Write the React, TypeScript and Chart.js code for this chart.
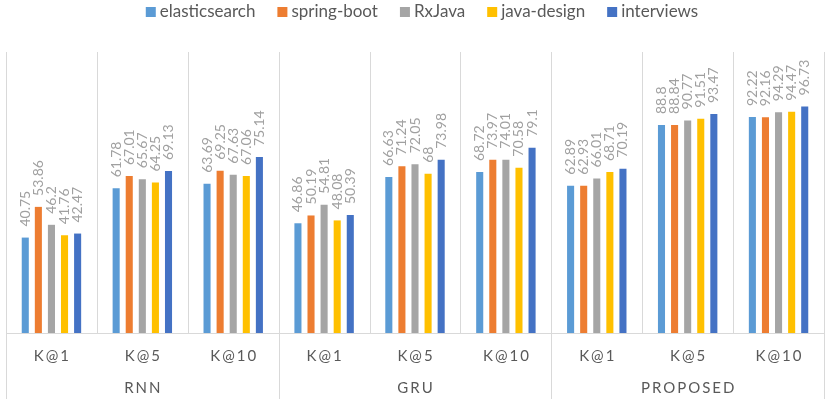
import React, { useEffect, useRef } from "react";
import { Chart, registerables } from "chart.js";

Chart.register(...registerables);

const categories = ["K@1", "K@5", "K@10", "K@1", "K@5", "K@10", "K@1", "K@5", "K@10"];
const groups = ["RNN", "GRU", "PROPOSED"];
const seriesNames = ["elasticsearch", "spring-boot", "RxJava", "java-design", "interviews"];
const seriesColors = ["#5B9BD5", "#ED7D31", "#A5A5A5", "#FFC000", "#4472C4"];

const elasticsearch = [40.75, 61.78, 63.69, 46.86, 66.63, 68.72, 62.89, 88.8, 92.22];
const springBoot = [53.86, 67.01, 69.25, 50.19, 71.24, 73.97, 62.93, 88.84, 92.16];
const rxJava = [46.2, 65.67, 67.63, 54.81, 72.05, 74.01, 66.01, 90.77, 94.29];
const javaDesign = [41.76, 64.25, 67.06, 48.08, 68, 70.58, 68.71, 91.51, 94.47];
const interviews = [42.47, 69.13, 75.14, 50.39, 73.98, 79.1, 70.19, 93.47, 96.73];

const seriesValues = [elasticsearch, springBoot, rxJava, javaDesign, interviews];

const FONT = "Lato, 'Noto Sans', sans-serif";
const GRID = "#d9d9d9";
const AXIS_TEXT = "#595959";
const LABEL_TEXT = "#a0a0a0";

const excelPlugin = {
  id: "excelLook",
  beforeDatasetsDraw(chart: any) {
    const { ctx, chartArea } = chart;
    const { left, right, top, bottom } = chartArea;
    const n = categories.length;
    const w = (right - left) / n;
    const per = n / groups.length;
    ctx.save();
    ctx.strokeStyle = GRID;
    ctx.lineWidth = 1;
    ctx.beginPath();
    for (let i = 0; i <= n; i++) {
      const x = Math.round(left + i * w) + 0.5;
      const full = i % per === 0;
      ctx.moveTo(x, top);
      ctx.lineTo(x, full ? chart.height - 2 : bottom);
    }
    const yb = Math.round(bottom) + 0.5;
    ctx.moveTo(left, yb);
    ctx.lineTo(right, yb);
    ctx.stroke();
    ctx.restore();
  },
  afterDatasetsDraw(chart: any) {
    const { ctx } = chart;
    ctx.save();
    ctx.font = `14px ${FONT}`;
    ctx.fillStyle = LABEL_TEXT;
    ctx.textAlign = "left";
    ctx.textBaseline = "middle";
    chart.data.datasets.forEach((ds: any, di: number) => {
      const meta = chart.getDatasetMeta(di);
      meta.data.forEach((el: any, i: number) => {
        ctx.save();
        ctx.translate(el.x, el.y - 11);
        ctx.rotate(-Math.PI / 2);
        ctx.fillText(String(ds.data[i]), 0, 0);
        ctx.restore();
      });
    });
    ctx.restore();
  },
  afterDraw(chart: any) {
    const { ctx, chartArea } = chart;
    const { left, right, bottom } = chartArea;
    const n = categories.length;
    const w = (right - left) / n;
    const per = n / groups.length;
    ctx.save();
    ctx.fillStyle = AXIS_TEXT;
    ctx.font = `15px ${FONT}`;
    ctx.textAlign = "center";
    ctx.textBaseline = "middle";
    (ctx as any).letterSpacing = "2px";
    categories.forEach((c, i) => {
      ctx.fillText(c, left + (i + 0.5) * w + 1, bottom + 23);
    });
    groups.forEach((g, i) => {
      ctx.fillText(g, left + (i + 0.5) * per * w + 1, bottom + 55);
    });
    (ctx as any).letterSpacing = "0px";

    // legend
    ctx.font = `17px ${FONT}`;
    ctx.textAlign = "left";
    const box = 10;
    const gap = 4;
    const itemGap = 22;
    const widths = seriesNames.map((s) => ctx.measureText(s).width);
    const total = widths.reduce((a, b) => a + b + box + gap, 0) + itemGap * (seriesNames.length - 1);
    let x = 422 - total / 2;
    const y = 12;
    seriesNames.forEach((s, i) => {
      ctx.fillStyle = seriesColors[i];
      ctx.fillRect(x, y - box / 2, box, box);
      ctx.fillStyle = AXIS_TEXT;
      ctx.fillText(s, x + box + gap, y);
      x += box + gap + widths[i] + itemGap;
    });
    ctx.restore();
  },
};

export default function App() {
  const ref = useRef<HTMLCanvasElement | null>(null);
  useEffect(() => {
    document.body.style.margin = "0";
    const canvas = ref.current;
    if (!canvas) return;
    const chart = new Chart(canvas, {
      type: "bar",
      data: {
        labels: categories.map((c, i) => `${groups[Math.floor(i / 3)]} ${c}`),
        datasets: seriesNames.map((name, i) => ({
          label: name,
          data: seriesValues[i],
          backgroundColor: seriesColors[i],
          borderWidth: 0,
          categoryPercentage: 0.72,
          barPercentage: 0.54,
        })),
      },
      options: {
        animation: false,
        responsive: true,
        maintainAspectRatio: false,
        layout: { padding: { left: 6, right: 6, top: 52, bottom: 68 } },
        plugins: {
          legend: { display: false },
          tooltip: { enabled: false },
        },
        scales: {
          x: { display: false },
          y: { display: false, min: 0, max: 120 },
        },
      },
      plugins: [excelPlugin],
    });
    return () => chart.destroy();
  }, []);
  return (
    <div style={{ position: "relative", width: 830, height: 401 }}>
      <canvas ref={ref} />
    </div>
  );
}
